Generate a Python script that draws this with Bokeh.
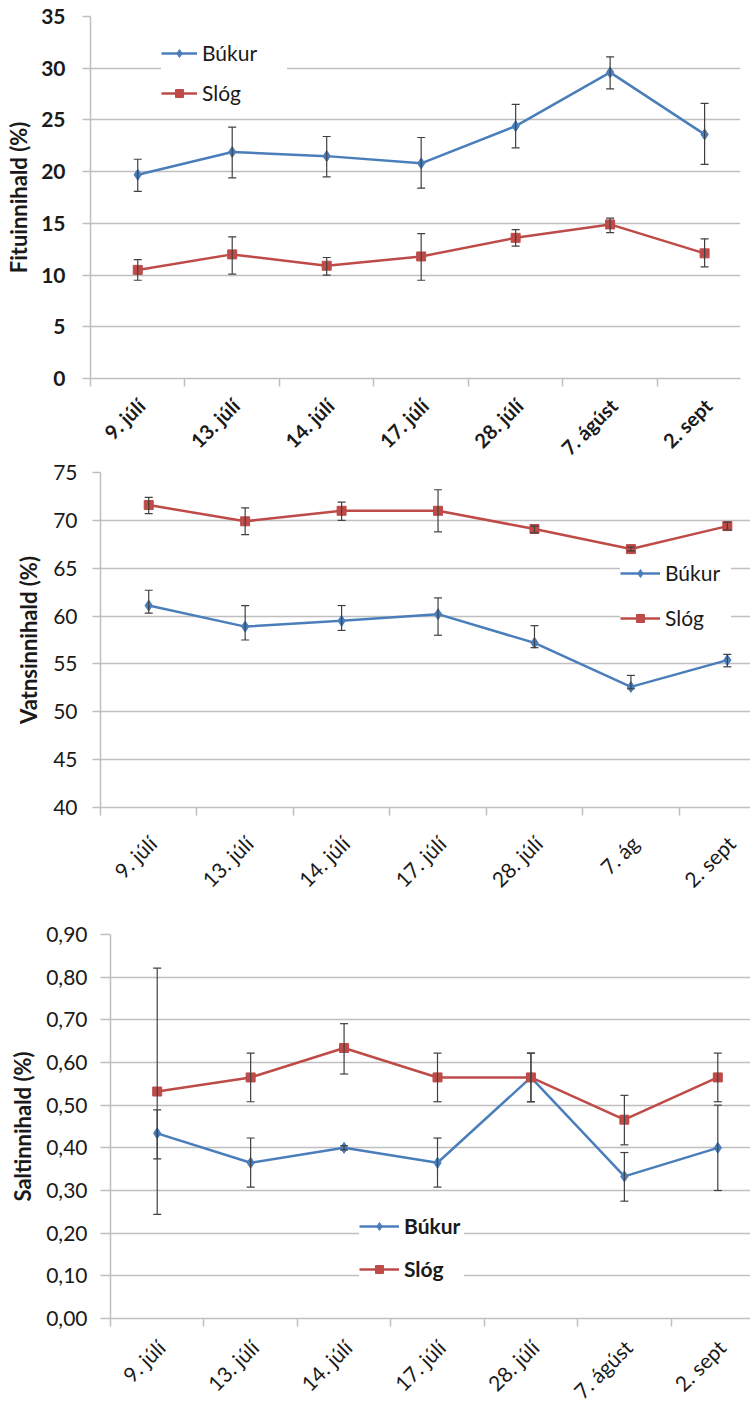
import math
from bokeh.plotting import figure
from bokeh.models import (ColumnDataSource, Whisker, TeeHead, FixedTicker, Legend,
                          LegendItem, Range1d)
from bokeh.core.properties import value
from bokeh.layouts import column
from bokeh.embed import file_html
from bokeh.resources import INLINE

# ---------------- data ----------------
dates_fat = ["9. júlí", "13. júlí", "14. júlí", "17. júlí", "28. júlí", "7. ágúst", "2. sept"]
dates_water = ["9. júlí", "13. júlí", "14. júlí", "17. júlí", "28. júlí", "7. ág", "2. sept"]
dates_salt = ["9. júlí", "13. júlí", "14. júlí", "17. júlí", "28. júlí", "7. ágúst", "2. sept"]

fat_bukur = [19.7, 21.9, 21.5, 20.8, 24.4, 29.6, 23.6]
fat_bukur_hi = [21.2, 24.3, 23.4, 23.3, 26.5, 31.1, 26.6]
fat_bukur_lo = [18.1, 19.4, 19.5, 18.4, 22.3, 28.0, 20.7]
fat_slog = [10.5, 12.0, 10.9, 11.8, 13.6, 14.9, 12.1]
fat_slog_hi = [11.5, 13.7, 11.7, 14.0, 14.4, 15.5, 13.5]
fat_slog_lo = [9.5, 10.1, 10.0, 9.5, 12.8, 14.1, 10.8]

water_bukur = [61.1, 58.9, 59.5, 60.2, 57.2, 52.6, 55.4]
water_bukur_hi = [62.7, 61.1, 61.1, 61.9, 59.0, 53.8, 56.0]
water_bukur_lo = [60.3, 57.5, 58.5, 58.0, 56.7, 52.4, 54.7]
water_slog = [71.6, 69.9, 71.0, 71.0, 69.1, 67.0, 69.4]
water_slog_hi = [72.4, 71.3, 71.9, 73.2, 69.4, 67.2, 69.8]
water_slog_lo = [70.7, 68.5, 70.0, 68.8, 68.7, 66.8, 69.0]

salt_bukur = [0.434, 0.365, 0.400, 0.365, 0.565, 0.333, 0.400]
salt_bukur_hi = [0.489, 0.423, 0.405, 0.423, 0.622, 0.389, 0.500]
salt_bukur_lo = [0.374, 0.308, 0.395, 0.308, 0.508, 0.275, 0.300]
salt_slog = [0.532, 0.565, 0.634, 0.565, 0.565, 0.466, 0.565]
salt_slog_hi = [0.821, 0.622, 0.691, 0.622, 0.622, 0.523, 0.622]
salt_slog_lo = [0.244, 0.508, 0.573, 0.508, 0.508, 0.407, 0.508]

fat_ticks = [0, 5, 10, 15, 20, 25, 30, 35]
water_ticks = [40, 45, 50, 55, 60, 65, 70, 75]
salt_ticks = [0.0, 0.1, 0.2, 0.3, 0.4, 0.5, 0.6, 0.7, 0.8, 0.9]
salt_tick_labels = ["0,00", "0,10", "0,20", "0,30", "0,40", "0,50", "0,60", "0,70", "0,80", "0,90"]

series_names = ["Búkur", "Slóg"]

# ---------------- style ----------------
FONT = "Lato"
BLUE = "#4A7EBB"
RED = "#BE4B48"
GRID = "#BFBFBF"
ERR = "#404040"
TXT = "#1a1a1a"


def make_chart(labels, bukur, bukur_hi, bukur_lo, slog, slog_hi, slog_lo,
               y_lo, y_hi, y_ticks, y_tick_labels, y_title,
               height, b_left, b_right, b_top, b_bottom, x_end,
               tick_bold, legend_bold, legend_loc, legend_pad,
               legend_glyph_w, legend_spacing, legend_label_w,
               y_standoff, y_title_standoff, y_tick_out):
    n = len(labels)
    centers = [i + 0.5 for i in range(n)]
    p = figure(width=750, height=height, output_backend="svg", toolbar_location=None,
               x_range=Range1d(0, x_end), y_range=Range1d(y_lo, y_hi),
               min_border_left=b_left, min_border_right=b_right,
               min_border_top=b_top, min_border_bottom=b_bottom,
               background_fill_color="white", border_fill_color="white",
               frame_align=False)
    p.outline_line_color = None

    src_b = ColumnDataSource(dict(x=centers, y=bukur, upper=bukur_hi, lower=bukur_lo))
    src_s = ColumnDataSource(dict(x=centers, y=slog, upper=slog_hi, lower=slog_lo))

    lb = p.line("x", "y", source=src_b, line_color=BLUE, line_width=2.5)
    sb = p.scatter("x", "y", source=src_b, marker="diamond", size=11,
                   fill_color=BLUE, line_color=BLUE)
    ls = p.line("x", "y", source=src_s, line_color=RED, line_width=2.5)
    ss = p.scatter("x", "y", source=src_s, marker="square", size=9,
                   fill_color=RED, line_color=RED)

    for src in (src_b, src_s):
        w = Whisker(base="x", upper="upper", lower="lower", source=src,
                    line_color=ERR, line_width=1.2, level="annotation",
                    upper_head=TeeHead(size=8, line_color=ERR, line_width=1.2),
                    lower_head=TeeHead(size=8, line_color=ERR, line_width=1.2))
        p.add_layout(w)

    # x axis: tick marks at the category boundaries (labels in the strip below)
    xa = p.xaxis[0]
    xa.ticker = FixedTicker(ticks=[], minor_ticks=list(range(0, n + 1)))
    xa.major_tick_line_color = None
    xa.major_tick_out = 8
    xa.major_tick_in = 0
    xa.major_label_standoff = 0
    xa.minor_tick_line_color = GRID
    xa.minor_tick_line_width = 1.5
    xa.minor_tick_out = 8
    xa.minor_tick_in = 0
    xa.axis_line_color = GRID
    xa.axis_line_width = 1.5

    # y axis
    ya = p.yaxis[0]
    ya.ticker = FixedTicker(ticks=y_ticks)
    if y_tick_labels is not None:
        ya.major_label_overrides = {t: s for t, s in zip(y_ticks, y_tick_labels)}
    ya.major_tick_line_color = GRID
    ya.major_tick_line_width = 1.5
    ya.major_tick_out = y_tick_out
    ya.major_tick_in = 0
    ya.minor_tick_line_color = None
    ya.axis_line_color = GRID
    ya.axis_line_width = 1.5
    ya.major_label_text_font = FONT
    ya.major_label_text_font_size = "21px"
    ya.major_label_text_font_style = "bold" if tick_bold else "normal"
    ya.major_label_text_color = TXT
    ya.major_label_standoff = y_standoff
    ya.axis_label = y_title
    ya.axis_label_text_font = FONT
    ya.axis_label_text_font_size = "22px"
    ya.axis_label_text_font_style = "bold"
    ya.axis_label_text_color = TXT
    ya.axis_label_standoff = y_title_standoff

    p.xgrid.visible = False
    p.ygrid.grid_line_color = GRID
    p.ygrid.grid_line_width = 1.5

    legend = Legend(items=[LegendItem(label=series_names[0], renderers=[lb, sb]),
                           LegendItem(label=series_names[1], renderers=[ls, ss])],
                    location=legend_loc, padding=legend_pad, spacing=legend_spacing,
                    glyph_width=legend_glyph_w, glyph_height=20,
                    label_height=20, label_width=legend_label_w, label_standoff=5,
                    border_line_color=None, background_fill_color="white",
                    background_fill_alpha=1.0, margin=0,
                    label_text_font=FONT, label_text_font_size="21px",
                    label_text_font_style="bold" if legend_bold else "normal",
                    label_text_color=TXT)
    p.add_layout(legend)
    return p, centers


def make_label_strip(main, labels, centers, height, b_left, b_right, drop, bold, size):
    """Strip under a chart that holds its rotated category labels."""
    s = figure(width=750, height=height, output_backend="svg", toolbar_location=None,
               x_range=main.x_range, y_range=Range1d(-height, 0),
               x_axis_type=None, y_axis_type=None,
               min_border_left=b_left, min_border_right=b_right,
               min_border_top=0, min_border_bottom=0,
               background_fill_color="white", border_fill_color="white",
               frame_align=False)
    s.outline_line_color = None
    s.grid.visible = False
    src = ColumnDataSource(dict(x=centers, y=[-drop] * len(centers), text=labels))
    s.text(x="x", y="y", text="text", source=src, angle=math.pi / 4,
           text_align="right", text_baseline="top", x_offset=-5,
           text_font=value(FONT), text_font_size=value(size),
           text_font_style="bold" if bold else "normal", text_color=TXT)
    return s


p1, c1 = make_chart(dates_fat, fat_bukur, fat_bukur_hi, fat_bukur_lo,
                    fat_slog, fat_slog_hi, fat_slog_lo,
                    0, 35, fat_ticks, None, "Fituinnihald (%)",
                    height=392, b_left=90, b_right=10, b_top=16, b_bottom=14,
                    x_end=6.88, tick_bold=True, legend_bold=False,
                    legend_loc=(71, 273), legend_pad=10, legend_glyph_w=36,
                    legend_spacing=15, legend_label_w=85,
                    y_standoff=17, y_title_standoff=6, y_tick_out=8)
s1 = make_label_strip(p1, dates_fat, c1, height=68, b_left=90, b_right=10,
                      drop=1, bold=True, size="20px")

p2, c2 = make_chart(dates_water, water_bukur, water_bukur_hi, water_bukur_lo,
                    water_slog, water_slog_hi, water_slog_lo,
                    40, 75, water_ticks, None, "Vatnsinnihald (%)",
                    height=361, b_left=100, b_right=0, b_top=12, b_bottom=14,
                    x_end=6.74, tick_bold=False, legend_bold=False,
                    legend_loc=(520, 177), legend_pad=10, legend_glyph_w=40,
                    legend_spacing=20, legend_label_w=66,
                    y_standoff=15, y_title_standoff=8, y_tick_out=8)
s2 = make_label_strip(p2, dates_water, c2, height=94, b_left=100, b_right=0,
                      drop=9, bold=False, size="21px")

p3, c3 = make_chart(dates_salt, salt_bukur, salt_bukur_hi, salt_bukur_lo,
                    salt_slog, salt_slog_hi, salt_slog_lo,
                    0, 0.9, salt_ticks, salt_tick_labels, "Saltinnihald (%)",
                    height=417, b_left=110, b_right=0, b_top=19, b_bottom=14,
                    x_end=6.85, tick_bold=False, legend_bold=True,
                    legend_loc=(249, 37), legend_pad=7, legend_glyph_w=40,
                    legend_spacing=18, legend_label_w=60,
                    y_standoff=13, y_title_standoff=7, y_tick_out=10)
s3 = make_label_strip(p3, dates_salt, c3, height=70, b_left=110, b_right=0,
                      drop=2, bold=False, size="21px")

layout = column(p1, s1, p2, s2, p3, s3, spacing=0)
open("out.html", "w").write(file_html(layout, INLINE))
